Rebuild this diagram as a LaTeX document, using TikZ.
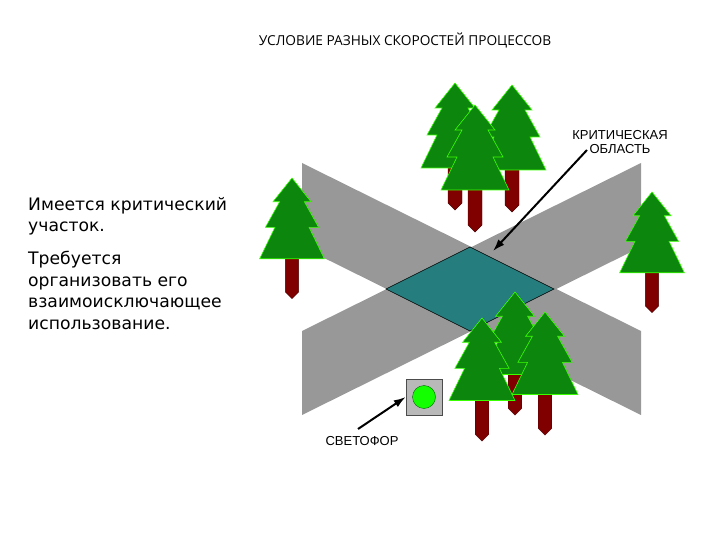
\documentclass[tikz,border=0pt]{standalone}
\usepackage{fontspec}
\usetikzlibrary{arrows.meta}
\setmainfont{Liberation Sans}
\newfontfamily\bodyfont{DejaVu Sans}
\newfontfamily\titlefont{Open Sans}
\begin{document}
\begin{tikzpicture}[x=1pt,y=-1pt,
  road/.style={fill=gray!85!black!70,draw=none},
  fol/.style={fill=green!50!black!95,draw=green!70!lime,line width=0.6pt},
  trunk/.style={fill=red!50!black,draw=red!30!black,line width=0.4pt},
  lab/.style={font=\fontsize{13}{14}\selectfont,align=center},
  arr/.style={-{Latex[length=12pt,width=8pt]},line width=2pt}]
\useasboundingbox (0,0) rectangle (720,540);
\newcommand\mytree[3]{\begin{scope}[shift={(#1,#2)},scale=#3]
 \draw[trunk] (-7,80) -- (7,80) -- (7,120) -- (0,127) -- (-7,120) -- cycle;
 \draw[fol] (0,0) -- (20,25) -- (13,25) -- (28,52) -- (18,52) -- (34,85) -- (-34,85) -- (-18,52) -- (-28,52) -- (-13,25) -- (-20,25) -- cycle;
\end{scope}}
\node[font=\titlefont\fontsize{13.7}{14}\selectfont] (title) at (405,40) {УСЛОВИЕ РАЗНЫХ СКОРОСТЕЙ ПРОЦЕССОВ};
\node[anchor=north west,align=left,font=\bodyfont\fontsize{17.2}{21.5}\selectfont,inner sep=0pt] (t1) at (28,197) {Имеется критический\\участок.};
\node[anchor=north west,align=left,font=\bodyfont\fontsize{17.2}{21.5}\selectfont,inner sep=0pt] (t2) at (28,251) {Требуется\\организовать его\\взаимоисключающее\\использование.};
% roads
\fill[road] (302,163) -- (641,331) -- (641,415) -- (302,247) -- cycle;
\fill[road] (302,331) -- (641,163) -- (641,247) -- (302,415) -- cycle;
\draw[fill=teal!80!black!85,line width=0.6pt] (470,247) coordinate (dtop) -- (554,289) -- (470,331) -- (386,289) -- cycle;
\coordinate (dtr) at (493,251);
% trees
\mytree{455}{83}{1}
\mytree{512}{85}{1}
\mytree{475}{105}{1}
\mytree{292}{178}{0.95}
\mytree{652}{192}{0.95}
\mytree{515}{292}{0.97}
\mytree{482}{318}{0.97}
\mytree{545}{312}{0.97}
% light
\node[draw=black!70,fill=gray!55,minimum size=36pt,inner sep=0pt,line width=0.6pt] (light) at (424,397) {};
\fill[green!90!lime,draw=green!40!black,line width=0.4pt] (light.center) circle (11.5);
\node[lab] (crit) at (620,142) {КРИТИЧЕСКАЯ\\ОБЛАСТЬ};
\node[lab] (svet) at (362,441) {СВЕТОФОР};
\coordinate (cs) at (587,150);
\coordinate (ss) at (358,429);
\draw[arr] (cs) -- (dtr);
\draw[arr] (ss) -- (light.west);
\end{tikzpicture}
\end{document}
